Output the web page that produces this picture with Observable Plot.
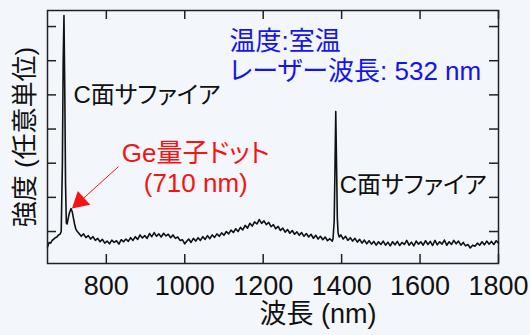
<!DOCTYPE html>
<html><head><meta charset="utf-8">
<script src="https://cdn.jsdelivr.net/npm/d3@7"></script>
<script src="https://cdn.jsdelivr.net/npm/@observablehq/plot@0.6"></script>
<style>
html,body{margin:0;padding:0;background:#f3f6fb;}
</style></head><body><div id="chart"></div>
<script>
const wavelength = [
 650,654,658,662,666,670,674,678,682,685,688,690,692,694,696,698,700,703,706,710,713,716,719,722,726,
 730,736,742,748,754,760,766,772,778,784,790,796,802,808,814,820,826,832,838,844,850,856,862,868,874,880,886,892,898,
 904,910,916,922,928,934,940,946,952,958,964,970,976,982,988,994,1000,1004,1010,1016,1022,1028,1034,1040,1046,1052,1058,1064,1070,1076,1082,1088,1094,
 1100,1106,1112,1118,1124,1130,1136,1142,1148,1154,1160,1166,1172,1178,1184,1190,1196,1202,1208,1214,1220,1226,1232,1238,1244,1250,1256,1262,1268,1274,1280,1286,1292,1298,
 1304,1310,1316,1322,1328,1334,1340,1346,1352,1358,1364,1370,1376,
 1378,1381,1383,1385,1387,1389,1391,1394,
 1398,1404,1410,1416,1422,1428,1434,1440,1446,1452,1458,1464,1470,1476,1482,1488,1494,1500,1506,1512,1518,1524,1530,1536,1542,1548,1554,1560,1566,1572,1578,1584,1590,1596,
 1602,1608,1614,1620,1626,1632,1638,1644,1650,1656,1662,1668,1674,1680,1686,1692,1698,1704,1710,1716,1722,1728,1734,1740,1746,1752,1758,1764,1770,1776,1782,1788,1794,1800
];
const intensity = [
 0.55,0.68,0.66,0.74,0.78,0.82,0.84,0.90,0.92,1.00,3.00,6.00,7.32,5.20,2.40,1.25,1.22,1.40,1.55,1.67,1.58,1.40,1.22,1.08,1.00,
 0.95,0.86,0.93,0.82,0.88,0.78,0.85,0.74,0.80,0.70,0.77,0.66,0.72,0.64,0.75,0.68,0.73,0.63,0.76,0.70,0.78,0.71,0.82,0.74,0.85,0.77,0.90,0.81,0.88,
 0.80,0.94,0.85,0.97,0.86,0.93,0.84,0.95,0.87,0.92,0.82,0.90,0.80,0.84,0.74,0.76,0.64,0.70,0.78,0.68,0.80,0.72,0.82,0.74,0.85,0.77,0.88,0.79,0.90,0.83,0.93,0.86,0.96,
 0.89,1.00,0.93,1.04,0.97,1.08,1.00,1.12,1.05,1.18,1.10,1.24,1.16,1.28,1.22,1.35,1.24,1.31,1.20,1.27,1.14,1.20,1.08,1.15,1.03,1.10,0.98,1.06,0.95,1.03,0.92,0.99,0.89,0.97,
 0.86,0.94,0.84,0.92,0.80,0.89,0.78,0.86,0.76,0.84,0.73,0.79,0.72,
 0.78,1.30,2.80,4.51,3.00,1.40,0.95,0.84,
 0.90,0.78,0.86,0.74,0.82,0.72,0.80,0.69,0.77,0.66,0.75,0.64,0.73,0.63,0.71,0.60,0.70,0.62,0.72,0.60,0.69,0.58,0.70,0.61,0.71,0.59,0.68,0.62,0.74,0.60,0.69,0.58,0.72,0.63,
 0.70,0.60,0.73,0.62,0.71,0.59,0.74,0.61,0.70,0.63,0.75,0.60,0.70,0.62,0.74,0.64,0.72,0.60,0.68,0.58,0.62,0.52,0.60,0.57,0.66,0.60,0.70,0.61,0.72,0.63,0.71,0.62,0.73,0.66
];
const xTicks = [800,1000,1200,1400,1600,1800];
const yTicks = [1,2,3,4,5,6,7];
const xLabel = "波長 (nm)";
const yLabel = "強度 (任意単位)";
const sapphireLabel = "C面サファイア";
const sapphireX = [716, 1395];
const sapphireY = [4.98, 2.35];
const conditionLabel = "温度:室温\nレーザー波長: 532 nm";
const conditionPos = [1114, 6.15];
const geLabel = "Ge量子ドット\n(710 nm)";
const gePos = [1028, 2.87];
const arrowFrom = [831, 2.90];
const arrowHead = [732.8, 1.88];

const spectrum = wavelength.map((w, i) => ({w, v: intensity[i]}));
const font = "'Liberation Sans', Arial, 'Noto Sans CJK JP', sans-serif";
const tickStyle = {stroke: "#222", strokeWidth: 1.5};

const plot = Plot.plot({
  width: 530, height: 335,
  marginLeft: 47, marginRight: 32, marginTop: 10, marginBottom: 72,
  style: `background: transparent; font-family: ${font}; font-feature-settings: 'palt'; color: #111;`,
  x: {domain: [650, 1800], ticks: xTicks, tickFormat: d => String(d)},
  y: {domain: [0.064, 7.47], axis: null},
  marks: [
    Plot.line(spectrum, {x: "w", y: "v", stroke: "#111", strokeWidth: 1.6}),
    Plot.tickX(xTicks, {x: d => d, insetTop: 244, ...tickStyle}),
    Plot.tickX(xTicks, {x: d => d, insetBottom: 244, ...tickStyle}),
    Plot.tickY(yTicks, {y: d => d, insetRight: 442, ...tickStyle}),
    Plot.tickY(yTicks, {y: d => d, insetLeft: 442, ...tickStyle}),
    Plot.axisX({ticks: xTicks, tickFormat: d => String(d), tickSize: 0, tickPadding: 12, fontSize: 27, label: null, fill: "#111"}),
    Plot.frame({stroke: "#222", strokeWidth: 1.5}),
    Plot.text([xLabel], {frameAnchor: "bottom", dy: 59, dx: 45, fontSize: 27, fill: "#111"}),
    Plot.text([yLabel], {frameAnchor: "left", dx: -22, rotate: -90, textAnchor: "middle", fontSize: 26, fill: "#111"}),
    Plot.text(sapphireX, {x: d => d, y: (d, i) => sapphireY[i], text: () => sapphireLabel, textAnchor: "start", fontSize: 24, fill: "#111"}),
    Plot.text([conditionLabel], {x: conditionPos[0], y: conditionPos[1], textAnchor: "start", lineHeight: 1.15, fontSize: 26, fill: "#1414ee"}),
    Plot.text([geLabel], {x: gePos[0], y: gePos[1], textAnchor: "middle", lineHeight: 1.15, fontSize: 26, fill: "#f51414"}),
    Plot.link([0], {x1: arrowFrom[0], y1: arrowFrom[1], x2: arrowHead[0], y2: arrowHead[1], stroke: "#f51414", strokeWidth: 1}),
    Plot.dot([0], {x: arrowHead[0], y: arrowHead[1], symbol: "triangle", r: 6.9, fill: "#f51414", stroke: "none", rotate: 228.3})
  ]
});
document.getElementById("chart").appendChild(plot);
</script></body></html>
